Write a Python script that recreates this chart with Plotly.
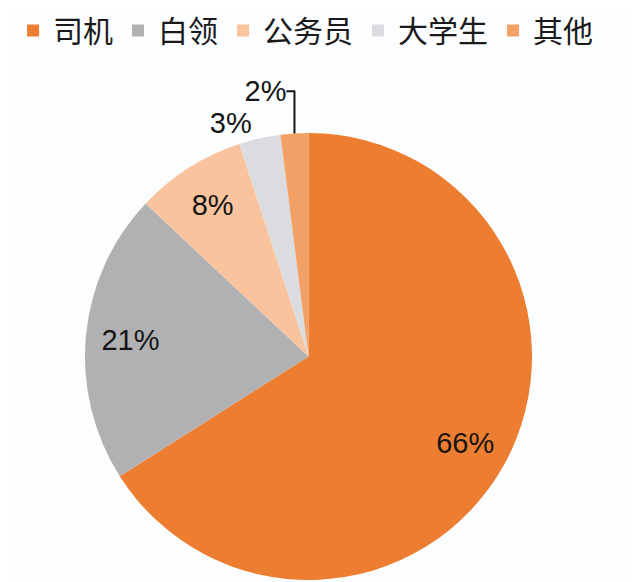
import plotly.graph_objects as go

labels = ["司机", "白领", "公务员", "大学生", "其他"]
values = [66, 21, 8, 3, 2]
colors = ["#ED7D31", "#B1B1B4", "#F9C49D", "#DBDCDF", "#F3A066"]
text_pos = ["inside", "inside", "inside", "outside", "outside"]

# page body has an 8px margin, so the figure is drawn at (8, 8)
OFF = 8
W, H = 640 - OFF, 582 - OFF
x0, x1 = 85 - OFF, 532 - OFF
ytop, ybot = 133 - OFF, 580 - OFF
dom = dict(x=[x0 / W, x1 / W], y=[(H - ybot) / H, (H - ytop) / H])

num_font = dict(family="Liberation Sans, Arial, sans-serif", size=29, color="#151515")

fig = go.Figure()
# coloured slices
fig.add_trace(go.Pie(
    labels=labels,
    values=values,
    marker=dict(colors=colors, line=dict(width=0)),
    sort=False,
    direction="clockwise",
    rotation=0,
    textinfo="none",
    domain=dom,
    hoverinfo="label+percent",
))
# transparent ring carrying the percentage labels further out on the slices
fig.add_trace(go.Pie(
    labels=labels,
    values=values,
    hole=0.6,
    marker=dict(colors=["rgba(0,0,0,0)"] * len(values), line=dict(width=0)),
    sort=False,
    direction="clockwise",
    rotation=0,
    texttemplate="%{value}%",
    textposition=text_pos,
    textfont=num_font,
    insidetextorientation="horizontal",
    domain=dom,
    showlegend=False,
    hoverinfo="skip",
))

fig.update_layout(
    width=W, height=H,
    margin=dict(l=0, r=0, t=0, b=0, autoexpand=False),
    paper_bgcolor="#FCFDFF",
    showlegend=True,
    legend=dict(
        orientation="h", x=0.008, y=1.006, xanchor="left", yanchor="top",
        font=dict(family="Noto Sans CJK SC, sans-serif", size=30, color="#1a1a1a"),
        itemclick=False, itemdoubleclick=False,
    ),
)

fig.write_html("out.html")
